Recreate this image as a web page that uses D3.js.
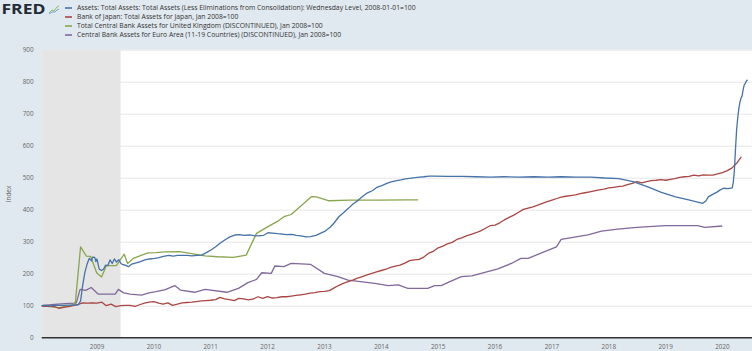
<!DOCTYPE html>
<html>
<head>
<meta charset="utf-8">
<script src="https://cdn.jsdelivr.net/npm/d3@7"></script>
<style>
  body { margin: 0; background: #e1e9f0; }
  svg { display: block; font-family: "Open Sans", sans-serif; }
</style>
</head>
<body>
<svg id="chart" width="752" height="351"></svg>
<script>
// Fed total assets, weekly-ish readings, 2008-01-01=100
const fedAssets = [
  ["2008-01-02",100],["2008-02-06",101],["2008-03-05",99],["2008-04-02",102],["2008-05-07",101],
  ["2008-06-04",101],["2008-07-02",102],["2008-08-06",102],["2008-09-03",103],["2008-09-17",115],
  ["2008-10-01",165],["2008-10-15",205],["2008-10-29",230],["2008-11-12",248],["2008-11-26",240],
  ["2008-12-03",252],["2008-12-17",251],["2008-12-24",238],["2008-12-31",246],["2009-01-14",215],
  ["2009-01-28",210],["2009-02-11",214],["2009-02-25",227],["2009-03-11",225],["2009-03-25",243],
  ["2009-04-08",232],["2009-04-22",246],["2009-05-06",236],["2009-05-20",244],["2009-06-03",232],
  ["2009-06-17",228],["2009-07-01",227],["2009-07-22",222],["2009-08-12",230],["2009-09-09",234],
  ["2009-10-07",238],["2009-11-04",243],["2009-12-02",246],["2010-01-06",248],["2010-02-03",250],
  ["2010-03-03",254],["2010-04-07",257],["2010-05-05",255],["2010-06-02",257],["2010-07-07",257],
  ["2010-08-04",257],["2010-09-01",256],["2010-10-06",257],["2010-11-03",258],["2010-12-01",265],
  ["2011-01-05",275],["2011-02-02",284],["2011-03-02",295],["2011-04-06",307],["2011-05-04",315],
  ["2011-06-08",321],["2011-07-06",322],["2011-08-03",320],["2011-09-07",321],["2011-10-05",319],
  ["2011-11-02",318],["2011-12-07",320],["2012-01-04",328],["2012-02-01",327],["2012-03-07",325],
  ["2012-04-04",324],["2012-05-02",322],["2012-06-06",323],["2012-07-04",320],["2012-08-01",318],
  ["2012-09-05",315],["2012-10-03",316],["2012-11-07",320],["2012-12-05",326],["2013-01-02",332],
  ["2013-02-06",345],["2013-03-06",360],["2013-04-03",378],["2013-05-01",390],["2013-06-05",405],
  ["2013-07-03",418],["2013-08-07",430],["2013-09-04",442],["2013-10-02",452],["2013-11-06",460],
  ["2013-12-04",470],["2014-01-08",476],["2014-02-05",482],["2014-03-05",487],["2014-04-02",490],
  ["2014-05-07",493],["2014-06-04",496],["2014-07-02",498],["2014-08-06",500],["2014-09-03",502],
  ["2014-10-01",503],["2014-11-05",505],["2014-12-03",505],["2015-03-04",504],["2015-06-03",504],
  ["2015-09-02",503],["2015-12-02",502],["2016-03-02",503],["2016-06-01",502],["2016-09-07",503],
  ["2016-12-07",502],["2017-03-01",503],["2017-06-07",502],["2017-09-06",502],["2017-12-06",499],
  ["2018-03-07",497],["2018-06-06",488],["2018-09-05",472],["2018-12-05",454],["2019-03-06",440],
  ["2019-06-05",430],["2019-08-28",420],["2019-09-18",428],["2019-10-02",440],["2019-10-30",448],
  ["2019-11-27",455],["2019-12-18",462],["2020-01-08",467],["2020-02-05",466],["2020-03-04",468],
  ["2020-03-11",487],["2020-03-18",525],["2020-03-25",590],["2020-04-01",650],["2020-04-08",685],
  ["2020-04-15",715],["2020-04-22",735],["2020-04-29",748],["2020-05-06",755],["2020-05-13",775],
  ["2020-05-20",790],["2020-05-27",795],["2020-06-03",802],["2020-06-10",806]
];

// Bank of Japan total assets, monthly, Jan 2008=100
const bojAssets = [
  ["2008-01",100],["2008-02",98],["2008-03",99],["2008-04",97],["2008-05",92],["2008-06",95],
  ["2008-07",97],["2008-08",100],["2008-09",104],["2008-10",109],["2008-11",108],["2008-12",109],
  ["2009-01",108],["2009-02",111],["2009-03",100],["2009-04",105],["2009-05",97],["2009-06",100],
  ["2009-07",101],["2009-08",101],["2009-09",98],["2009-10",103],["2009-11",108],["2009-12",111],
  ["2010-01",113],["2010-02",108],["2010-03",105],["2010-04",109],["2010-05",101],["2010-06",105],
  ["2010-07",109],["2010-08",110],["2010-09",111],["2010-10",113],["2010-11",115],["2010-12",116],
  ["2011-01",117],["2011-02",119],["2011-03",126],["2011-04",121],["2011-05",119],["2011-06",116],
  ["2011-07",123],["2011-08",121],["2011-09",118],["2011-10",121],["2011-11",128],["2011-12",123],
  ["2012-01",128],["2012-02",124],["2012-03",125],["2012-04",128],["2012-05",128],["2012-06",130],
  ["2012-07",132],["2012-08",134],["2012-09",136],["2012-10",139],["2012-11",141],["2012-12",144],
  ["2013-01",145],["2013-02",147],["2013-03",155],["2013-04",163],["2013-05",170],["2013-06",175],
  ["2013-07",180],["2013-08",186],["2013-09",191],["2013-10",196],["2013-11",201],["2013-12",206],
  ["2014-01",210],["2014-02",214],["2014-03",220],["2014-04",224],["2014-05",227],["2014-06",233],
  ["2014-07",241],["2014-08",243],["2014-09",245],["2014-10",252],["2014-11",264],["2014-12",270],
  ["2015-01",281],["2015-02",286],["2015-03",293],["2015-04",298],["2015-05",307],["2015-06",312],
  ["2015-07",318],["2015-08",323],["2015-09",328],["2015-10",334],["2015-11",342],["2015-12",350],
  ["2016-01",352],["2016-02",359],["2016-03",368],["2016-04",376],["2016-05",383],["2016-06",392],
  ["2016-07",401],["2016-08",405],["2016-09",409],["2016-10",414],["2016-11",420],["2016-12",425],
  ["2017-01",430],["2017-02",435],["2017-03",439],["2017-04",442],["2017-05",444],["2017-06",446],
  ["2017-07",450],["2017-08",453],["2017-09",456],["2017-10",459],["2017-11",462],["2017-12",464],
  ["2018-01",468],["2018-02",470],["2018-03",472],["2018-04",474],["2018-05",478],["2018-06",482],
  ["2018-07",488],["2018-08",484],["2018-09",488],["2018-10",491],["2018-11",492],["2018-12",494],
  ["2019-01",492],["2019-02",495],["2019-03",497],["2019-04",501],["2019-05",503],["2019-06",504],
  ["2019-07",508],["2019-08",506],["2019-09",509],["2019-10",508],["2019-11",508],["2019-12",512],
  ["2020-01",516],["2020-02",522],["2020-03",530],["2020-04",545],["2020-05",565]
];

// Bank of England total assets, Jan 2008=100
const ukAssets = [
  ["2008-01-01",100],["2008-02-01",99],["2008-03-01",97],["2008-04-01",96],["2008-05-01",93],
  ["2008-06-01",97],["2008-07-01",99],["2008-08-01",103],["2008-08-15",112],["2008-09-17",284],
  ["2008-10-24",255],["2008-11-21",254],["2008-12-30",202],["2009-01-30",190],["2009-03-01",225],
  ["2009-05-05",225],["2009-06-24",261],["2009-07-16",232],["2009-08-22",248],["2009-10-15",258],
  ["2009-11-25",265],["2010-01-15",266],["2010-03-10",268],["2010-06-15",269],["2010-09-20",261],
  ["2010-11-25",256],["2011-02-15",253],["2011-05-26",251],["2011-08-17",258],["2011-10-22",326],
  ["2012-01-04",347],["2012-03-10",365],["2012-04-15",378],["2012-06-01",385],["2012-10-10",441],
  ["2012-11-10",440],["2013-01-25",428],["2013-06-15",430],["2013-12-15",430],["2014-06-15",431],
  ["2014-08-25",431]
];

// Eurosystem central bank assets, Jan 2008=100
const euroAssets = [
  ["2008-01-01",100],["2008-04-01",104],["2008-07-01",107],["2008-08-20",108],["2008-09-14",151],
  ["2008-10-20",148],["2008-11-24",157],["2009-01-09",136],["2009-02-15",136],["2009-04-27",136],
  ["2009-05-18",151],["2009-06-20",140],["2009-08-01",136],["2009-10-14",133],["2009-12-01",140],
  ["2010-01-15",144],["2010-03-15",150],["2010-05-15",163],["2010-06-20",149],["2010-09-20",142],
  ["2010-11-25",151],["2011-04-15",142],["2011-06-28",154],["2011-08-28",172],["2011-10-22",182],
  ["2011-11-25",203],["2012-01-25",201],["2012-02-17",224],["2012-04-15",222],["2012-06-01",232],
  ["2012-10-05",229],["2012-12-31",201],["2013-03-28",191],["2013-06-01",180],["2013-11-20",170],
  ["2014-02-15",163],["2014-04-20",165],["2014-06-20",154],["2014-10-25",154],["2014-12-10",163],
  ["2015-01-20",163],["2015-03-25",177],["2015-05-30",191],["2015-08-05",193],["2016-01-20",215],
  ["2016-04-15",232],["2016-06-15",248],["2016-08-01",248],["2016-11-15",269],["2017-01-30",284],
  ["2017-03-01",307],["2017-08-20",321],["2017-11-15",333],["2018-02-28",339],["2018-06-30",345],
  ["2018-12-31",350],["2019-07-25",350],["2019-09-10",345],["2019-12-31",349]
];

const seriesNames = [
  "Assets: Total Assets: Total Assets (Less Eliminations from Consolidation): Wednesday Level, 2008-01-01=100",
  "Bank of Japan: Total Assets for Japan, Jan 2008=100",
  "Total Central Bank Assets for United Kingdom (DISCONTINUED), Jan 2008=100",
  "Central Bank Assets for Euro Area (11-19 Countries) (DISCONTINUED), Jan 2008=100"
];
const seriesColors = ["#4572a7", "#aa4643", "#89a54e", "#80699b"];
const yTicks = [0, 100, 200, 300, 400, 500, 600, 700, 800, 900];
const xTickYears = [2009, 2010, 2011, 2012, 2013, 2014, 2015, 2016, 2017, 2018, 2019, 2020];
const recession = ["2007-12-01", "2009-06-01"];

const svg = d3.select("#chart");
const plot = { left: 41.7, right: 752, top: 49.7, bottom: 337.7 };

const parseDay = d3.timeParse("%Y-%m-%d"),
      parseMonth = d3.timeParse("%Y-%m");
const toDate = s => s.length === 7 ? parseMonth(s) : parseDay(s);

const x = d3.scaleTime()
    .domain([new Date(2008, 0, 1), new Date(2021, 0, 1)])
    .range([40.1, 40.1 + 13 * 56.87]);
const y = d3.scaleLinear().domain([0, 900]).range([plot.bottom, plot.top]);

svg.append("rect")
    .attr("width", 752).attr("height", 351)
    .attr("fill", "#e1e9f0");

svg.append("defs").append("clipPath").attr("id", "clip")
  .append("rect")
    .attr("x", plot.left).attr("y", 0)
    .attr("width", plot.right - plot.left).attr("height", plot.bottom);

// Plot background
svg.append("rect")
    .attr("x", plot.left).attr("y", plot.top)
    .attr("width", plot.right - plot.left).attr("height", plot.bottom - plot.top)
    .attr("fill", "#ffffff");

// Grid
svg.append("g")
  .selectAll("line")
  .data(yTicks.filter(d => d > 0))
  .enter().append("line")
    .attr("x1", plot.left).attr("x2", plot.right)
    .attr("y1", d => y(d) + 0.5).attr("y2", d => y(d) + 0.5)
    .attr("stroke", "#e6e6e6").attr("stroke-width", 1);

// Recession shading
svg.append("rect")
    .attr("clip-path", "url(#clip)")
    .attr("x", x(toDate(recession[0])))
    .attr("y", plot.top)
    .attr("width", x(toDate(recession[1])) - x(toDate(recession[0])))
    .attr("height", plot.bottom - plot.top)
    .attr("fill", "#e5e5e5");

// Y tick labels
svg.append("g")
  .selectAll("text")
  .data(yTicks)
  .enter().append("text")
    .attr("x", 33.5)
    .attr("y", d => y(d) + 2.2)
    .attr("text-anchor", "end")
    .attr("font-size", "6.3px")
    .attr("fill", "#666")
    .text(d => d);

// X tick labels
svg.append("g")
  .selectAll("text")
  .data(xTickYears)
  .enter().append("text")
    .attr("x", d => x(new Date(d, 0, 1)))
    .attr("y", 349)
    .attr("text-anchor", "middle")
    .attr("font-size", "6.3px")
    .attr("fill", "#666")
    .text(d => d);

// Y axis title
svg.append("text")
    .attr("transform", "translate(11,194) rotate(-90)")
    .attr("text-anchor", "middle")
    .attr("font-size", "6.5px")
    .attr("fill", "#666")
    .text("Index");

// Series lines
const line = d3.line()
    .x(d => x(toDate(d[0])))
    .y(d => y(d[1]));

svg.append("g")
    .attr("clip-path", "url(#clip)")
  .selectAll("path")
  .data([euroAssets, ukAssets, bojAssets, fedAssets])
  .enter().append("path")
    .attr("d", line)
    .attr("fill", "none")
    .attr("stroke", (d, i) => seriesColors[3 - i])
    .attr("stroke-width", 1.3)
    .attr("stroke-linejoin", "round");

// Zero axis line
svg.append("line")
    .attr("x1", plot.left).attr("x2", plot.right)
    .attr("y1", y(0)).attr("y2", y(0))
    .attr("stroke", "#333").attr("stroke-width", 1.6);

// FRED logo
svg.append("text")
    .attr("x", 1.5).attr("y", 13.5)
    .attr("font-size", "13.5px")
    .attr("font-weight", "bold")
    .attr("fill", "#232b36")
    .attr("textLength", 44)
    .attr("lengthAdjust", "spacingAndGlyphs")
    .text("FRED");

const icon = svg.append("g").attr("transform", "translate(48,4)");
icon.append("rect").attr("width", 12).attr("height", 11).attr("fill", "#dfe9f1").attr("rx", 1);
icon.append("polyline")
    .attr("points", "1,9 4,6 6,7 9,3 11,2")
    .attr("fill", "none").attr("stroke", "#8dbd5a").attr("stroke-width", 1);
icon.append("polyline")
    .attr("points", "1,10 4,8 7,8 9,6 11,5")
    .attr("fill", "none").attr("stroke", "#5a8fc9").attr("stroke-width", 0.8);

// Legend
const legend = svg.append("g")
  .selectAll("g")
  .data(seriesNames)
  .enter().append("g")
    .attr("transform", (d, i) => `translate(65,${8 + i * 9})`);

legend.append("line")
    .attr("x1", 0).attr("x2", 7)
    .attr("stroke", (d, i) => seriesColors[i])
    .attr("stroke-width", 1.6);

legend.append("text")
    .attr("x", 12).attr("y", 2.4)
    .attr("font-size", "6.8px")
    .attr("fill", "#333")
    .text(d => d);
</script>
</body>
</html>
